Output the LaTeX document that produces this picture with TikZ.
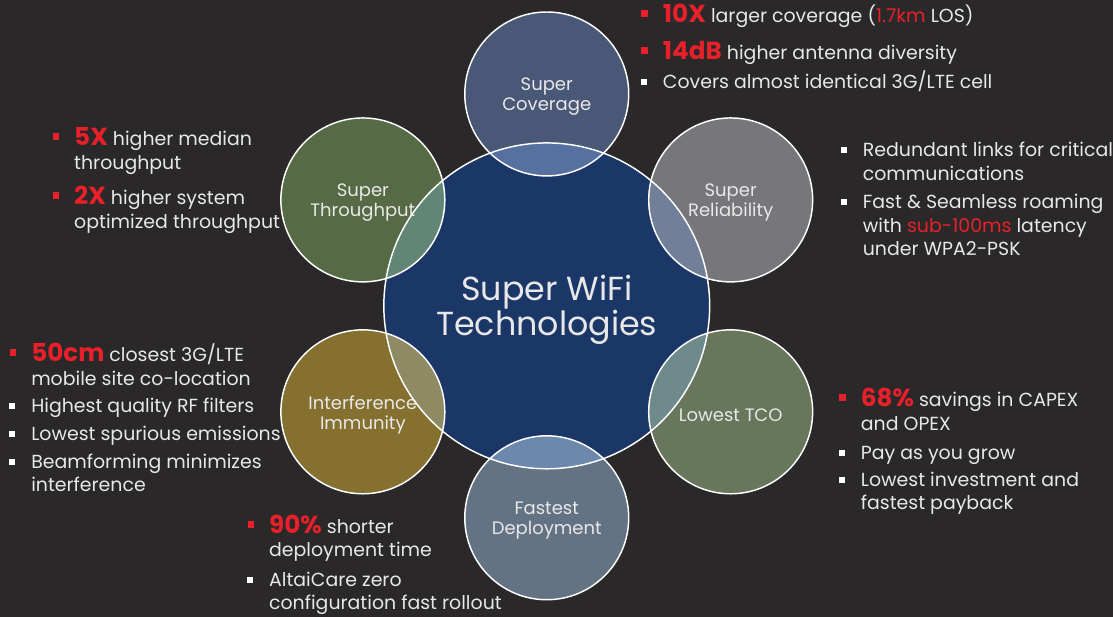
\documentclass[tikz,border=0pt]{standalone}
\usepackage{fontspec}
\setmainfont{Poppins}
\usetikzlibrary{positioning}
\definecolor{bgc}{HTML}{2A2829}
\definecolor{hubc}{HTML}{1B3767}
\definecolor{covc}{HTML}{4A5877}
\definecolor{covo}{HTML}{5670A0}
\definecolor{thrc}{HTML}{566B45}
\definecolor{thro}{HTML}{628676}
\definecolor{relc}{HTML}{77777B}
\definecolor{relo}{HTML}{717F99}
\definecolor{intc}{HTML}{85702F}
\definecolor{into}{HTML}{8E8A63}
\definecolor{tcoc}{HTML}{68765C}
\definecolor{tcoo}{HTML}{6E8A8A}
\definecolor{depc}{HTML}{637384}
\definecolor{depo}{HTML}{6D88AD}
\definecolor{hot}{HTML}{E8202A}
\definecolor{txt}{HTML}{E8E8E8}
\newcommand\bignum[1]{{\color{hot}\bfseries\fontsize{18.5}{18.5}\selectfont #1}}
\newcommand\redword[1]{{\color{hot}#1}}
\newcommand\lines[1]{\begin{tabular}[t]{@{}l@{}}#1\end{tabular}}
\begin{document}
\begin{tikzpicture}[line join=round,line cap=round,x=0.75pt,y=-0.75pt]
    \tikzset{disc/.style={circle,inner sep=0pt,minimum size=123pt},
        edge/.style={draw=white,line width=1.1pt},
        lbl/.style={align=center,text=txt,yshift=-2.25pt,font=\fontsize{13.5}{15}\selectfont},
        note/.style={anchor=base west,inner sep=0pt,text=txt,font=\fontsize{14.2}{17.4}\selectfont},
        rsq/.style={fill=hot,inner sep=0pt,minimum size=5pt},
        wsq/.style={fill=white,inner sep=0pt,minimum size=4.5pt}}
    \def \rr{61.5pt}
    \def \RR{122.25pt}
    \fill[bgc] (0,0) rectangle (1113,617);
    % circles
    \node[circle,inner sep=0pt,minimum size=244.5pt,fill=hubc] (hub) at (547,306) {};
    \node[disc,fill=covc] (cov) at (547,94) {};
    \node[disc,fill=thrc] (thr) at (363,200) {};
    \node[disc,fill=relc] (rel) at (731,200) {};
    \node[disc,fill=intc] (int) at (363,412) {};
    \node[disc,fill=tcoc] (tco) at (731,412) {};
    \node[disc,fill=depc] (dep) at (547,518) {};
    \begin{scope}
        \clip (hub.center) circle[radius=\RR];
        \fill[covo] (cov.center) circle[radius=\rr];
        \fill[thro] (thr.center) circle[radius=\rr];
        \fill[relo] (rel.center) circle[radius=\rr];
        \fill[into] (int.center) circle[radius=\rr];
        \fill[tcoo] (tco.center) circle[radius=\rr];
        \fill[depo] (dep.center) circle[radius=\rr];
    \end{scope}
    \node[align=center,text=txt,yshift=-3pt,font=\fontsize{25}{26.5}\selectfont] (hubl) at (hub) {Super WiFi\\Technologies};
    \node[lbl] (covl) at (cov) {Super\\Coverage};
    \node[lbl] (thrl) at (thr) {Super\\Throughput};
    \node[lbl] (rell) at (rel) {Super\\Reliability};
    \node[lbl] (intl) at (int) {Interference\\Immunity};
    \node[lbl] (tcol) at (tco) {Lowest TCO};
    \node[lbl] (depl) at (dep) {Fastest\\Deployment};
    \draw[edge] (hub.center) circle[radius=\RR];
    \foreach \c in {cov,thr,rel,int,tco,dep}
        \draw[edge] (\c.center) circle[radius=\rr];
    % coverage
    \node[note] (cov1) at (663,23) {\bignum{10X} larger coverage (\redword{1.7km} LOS)};
    \node[note] (cov2) at (663,60) {\bignum{14dB} higher antenna diversity};
    \node[note] (cov3) at (663,89) {Covers almost identical 3G/LTE cell};
    % throughput
    \node[note] (thr1) at (74,146) {\lines{\bignum{5X} higher median\\throughput}};
    \node[note] (thr2) at (74,205) {\lines{\bignum{2X} higher system\\optimized throughput}};
    % reliability
    \node[note] (rel1) at (863,157) {\lines{Redundant links for critical\\communications}};
    \node[note] (rel2) at (863,209) {\lines{Fast \& Seamless roaming\\with \redword{sub-100ms} latency\\under WPA2-PSK}};
    % interference
    \node[note] (int1) at (31,362) {\lines{\bignum{50cm} closest 3G/LTE\\mobile site co-location}};
    \node[note] (int2) at (31,413) {Highest quality RF filters};
    \node[note] (int3) at (31,441) {Lowest spurious emissions};
    \node[note] (int4) at (31,469) {\lines{Beamforming minimizes\\interference}};
    % tco
    \node[note] (tco1) at (861,407) {\lines{\bignum{68\%} savings in CAPEX\\and OPEX}};
    \node[note] (tco2) at (861,460) {Pay as you grow};
    \node[note] (tco3) at (861,487) {\lines{Lowest investment and\\fastest payback}};
    % deployment
    \node[note] (dep1) at (269,534) {\lines{\bignum{90\%} shorter\\deployment time}};
    \node[note] (dep2) at (269,587) {\lines{AltaiCare zero\\configuration fast rollout}};
    % bullets
    \foreach \b in {cov1,cov2,thr1,thr2,int1,tco1,dep1}
        \node[rsq] (\b q) at ([xshift=-13.5pt,yshift=7pt]\b.base west) {};
    \foreach \b in {cov3,rel1,rel2,int2,int3,int4,tco2,tco3,dep2}
        \node[wsq] (\b q) at ([xshift=-14pt,yshift=5pt]\b.base west) {};
\end{tikzpicture}
\end{document}
